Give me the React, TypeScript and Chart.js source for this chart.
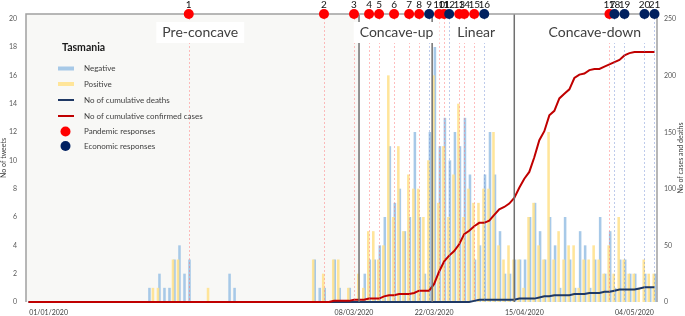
import { useEffect, useRef } from 'react';
import { Chart, registerables } from 'chart.js';

Chart.register(...registerables);

// ---------- data ----------
const startDate = new Date(2020, 0, 1);
const dayCount = 126; // 01/01/2020 .. 05/05/2020
const dayLabels: string[] = Array.from({ length: dayCount }, (_, i) => {
  const d = new Date(startDate.getFullYear(), startDate.getMonth(), startDate.getDate() + i);
  const dd = String(d.getDate()).padStart(2, '0');
  const mm = String(d.getMonth() + 1).padStart(2, '0');
  return `${dd}/${mm}/${d.getFullYear()}`;
});

const negativeTweets = [
  0, 0, 0, 0, 0, 0, 0, 0, 0, 0,
  0, 0, 0, 0, 0, 0, 0, 0, 0, 0,
  0, 0, 0, 0, 1, 0, 2, 1, 1, 3,
  4, 2, 3, 0, 0, 0, 0, 0, 0, 0,
  2, 1, 0, 0, 0, 0, 0, 0, 0, 0,
  0, 0, 0, 0, 0, 0, 0, 3, 1, 1,
  0, 3, 1, 0, 1, 0, 0, 2, 3, 3,
  4, 6, 11, 7, 8, 5, 6, 12, 6, 2,
  12, 18, 11, 13, 10, 12, 11, 13, 9, 3,
  4, 9, 12, 9, 5, 2, 2, 3, 3, 3,
  6, 7, 5, 3, 6, 4, 1, 6, 3, 1,
  5, 4, 1, 3, 6, 2, 5, 1, 3, 3,
  2, 2, 0, 2, 1, 2,
];

const positiveTweets = [
  0, 0, 0, 0, 0, 0, 0, 0, 0, 0,
  0, 0, 0, 0, 0, 0, 0, 0, 0, 0,
  0, 0, 0, 0, 0, 1, 1, 0, 0, 3,
  3, 0, 0, 0, 0, 0, 1, 0, 0, 0,
  0, 0, 0, 0, 0, 0, 0, 0, 0, 0,
  0, 0, 0, 0, 0, 0, 0, 3, 0, 2,
  0, 3, 3, 0, 1, 0, 2, 1, 5, 5,
  3, 4, 16, 6, 11, 5, 9, 8, 8, 6,
  10, 16, 7, 11, 6, 9, 14, 6, 8, 7,
  7, 8, 8, 12, 4, 3, 4, 3, 3, 1,
  6, 7, 4, 3, 12, 3, 5, 3, 4, 4,
  1, 3, 3, 4, 3, 2, 4, 2, 6, 3,
  2, 2, 1, 3, 2, 2,
];

const cumulativeCases = [
  0, 0, 0, 0, 0, 0, 0, 0, 0, 0,
  0, 0, 0, 0, 0, 0, 0, 0, 0, 0,
  0, 0, 0, 0, 0, 0, 0, 0, 0, 0,
  0, 0, 0, 0, 0, 0, 0, 0, 0, 0,
  0, 0, 0, 0, 0, 0, 0, 0, 0, 0,
  0, 0, 0, 0, 0, 0, 0, 0, 0, 0,
  0, 1, 1, 1, 1, 2, 2, 2, 3, 3,
  3, 5, 6, 6, 7, 7, 7, 8, 10, 10,
  10, 16, 27, 36, 41, 45, 51, 60, 63, 67,
  70, 70, 72, 77, 82, 84, 87, 92, 101, 109,
  115, 128, 143, 151, 165, 169, 180, 184, 188, 198,
  201, 202, 205, 206, 206, 208, 210, 212, 214, 218,
  220, 221, 221, 221, 221, 221,
];

const cumulativeDeaths = [
  0, 0, 0, 0, 0, 0, 0, 0, 0, 0,
  0, 0, 0, 0, 0, 0, 0, 0, 0, 0,
  0, 0, 0, 0, 0, 0, 0, 0, 0, 0,
  0, 0, 0, 0, 0, 0, 0, 0, 0, 0,
  0, 0, 0, 0, 0, 0, 0, 0, 0, 0,
  0, 0, 0, 0, 0, 0, 0, 0, 0, 0,
  0, 0, 0, 0, 0, 0, 0, 0, 0, 0,
  0, 0, 0, 0, 0, 0, 0, 0, 0, 0,
  0, 0, 0, 0, 0, 0, 0, 0, 0, 1,
  2, 2, 2, 2, 2, 2, 2, 2, 3, 3,
  3, 3, 4, 5, 5, 6, 6, 6, 6, 7,
  7, 7, 8, 8, 8, 9, 9, 10, 11, 11,
  11, 11, 12, 13, 13, 13,
];

// policy responses (category index of the day, and type)
const responseNumbers = ['1', '2', '3', '4', '5', '6', '7', '8', '9', '10', '11', '12', '13', '14', '15', '16', '17', '18', '19', '20', '21'];
const responseDays = [32, 59, 65, 68, 70, 73, 76, 78, 80, 82, 83, 84, 86, 87, 89, 91, 116, 117, 119, 123, 125];
const responseTypes = ['P', 'P', 'P', 'P', 'P', 'P', 'P', 'P', 'E', 'P', 'P', 'E', 'P', 'P', 'P', 'E', 'P', 'E', 'E', 'E', 'E'];

// phases
const phaseNames = ['Pre-concave', 'Concave-up', 'Linear', 'Concave-down'];
const phaseBoundaryDays = [66, 80.6, 97];
const phaseLabelDays = [34.3, 73.5, 89.4, 113.1];

// x tick labels as shown under the axis
const xTickTexts = ['01/01/2020', '08/03/2020', '22/03/2020', '15/04/2020', '04/05/2020'];
const xTickSlots = [4, 65, 81, 99, 121];

const leftTicks = [0, 2, 4, 6, 8, 10, 12, 14, 16, 18, 20];
const rightTicks = [0, 50, 100, 150, 200, 250];

// ---------- styles ----------
const FONT = 'Lato, "DejaVu Sans", sans-serif';
const BLUE_BAR = 'rgba(157,195,230,0.9)';
const YELLOW_BAR = 'rgba(255,225,140,0.88)';
const RED_LINE = '#C00000';
const NAVY_LINE = '#1F3864';
const RED_DOT = '#FF0000';
const NAVY_DOT = '#002060';

const overlayPlugin = {
  id: 'overlay',
  beforeDatasetsDraw(chart: any) {
    const { ctx, chartArea: a, scales } = chart;
    const x = scales.x;
    const b0 = x.getPixelForValue(phaseBoundaryDays[0]);
    ctx.save();
    ctx.fillStyle = '#f8f8f6';
    ctx.fillRect(a.left, a.top, b0 - a.left, a.bottom - a.top);
    ctx.restore();
  },
  afterDatasetsDraw(chart: any) {
    const { ctx, chartArea: a, scales } = chart;
    const x = scales.x;
    ctx.save();
    // dotted response lines
    ctx.lineWidth = 1;
    ctx.setLineDash([2, 2]);
    responseDays.forEach((d, i) => {
      const px = Math.round(x.getPixelForValue(d)) + 0.5;
      ctx.strokeStyle = responseTypes[i] === 'P' ? 'rgba(255,110,110,0.45)' : 'rgba(110,140,210,0.45)';
      ctx.beginPath();
      ctx.moveTo(px, a.top);
      ctx.lineTo(px, a.bottom);
      ctx.stroke();
    });
    ctx.setLineDash([]);

    // phase boundaries
    ctx.strokeStyle = '#707070';
    ctx.lineWidth = 1.5;
    phaseBoundaryDays.forEach((d) => {
      const px = x.getPixelForValue(d);
      ctx.beginPath();
      ctx.moveTo(px, a.top);
      ctx.lineTo(px, a.bottom);
      ctx.stroke();
    });

    // frame
    ctx.strokeStyle = '#a0a0a0';
    ctx.lineWidth = 1.5;
    ctx.beginPath();
    ctx.moveTo(a.left, a.bottom);
    ctx.lineTo(a.left, a.top);
    ctx.lineTo(a.right, a.top);
    ctx.lineTo(a.right, a.bottom);
    ctx.stroke();

    // phase labels
    ctx.font = `14px ${FONT}`;
    ctx.textBaseline = 'middle';
    ctx.textAlign = 'center';
    phaseNames.forEach((name, i) => {
      const cx = x.getPixelForValue(phaseLabelDays[i]);
      const w = ctx.measureText(name).width;
      ctx.fillStyle = '#ffffff';
      ctx.fillRect(cx - w / 2 - 6, a.top + 8, w + 12, 21);
      ctx.fillStyle = '#404040';
      ctx.fillText(name, cx, a.top + 18.5);
    });

    // response markers
    responseDays.forEach((d, i) => {
      const px = x.getPixelForValue(d);
      ctx.fillStyle = responseTypes[i] === 'P' ? RED_DOT : NAVY_DOT;
      ctx.beginPath();
      ctx.arc(px, a.top, 5, 0, Math.PI * 2);
      ctx.fill();
    });
    ctx.fillStyle = '#111111';
    ctx.font = `10px ${FONT}`;
    responseDays.forEach((d, i) => {
      const px = x.getPixelForValue(d);
      ctx.fillText(responseNumbers[i], px, a.top - 9.5);
    });

    // legend
    const lx = 58;
    ctx.textAlign = 'left';
    ctx.fillStyle = '#1a1a1a';
    ctx.font = `bold 10.5px ${FONT}`;
    ctx.fillText('Tasmania', 62, 48);
    const rows = [68.5, 84, 100, 116, 131.5, 146];
    const ds = chart.data.datasets;
    const names = [ds[0].label, ds[1].label, ds[3].label, ds[2].label, 'Pandemic responses', 'Economic responses'];
    ctx.font = `8px ${FONT}`;
    names.forEach((n, i) => {
      const y = rows[i];
      if (i === 0 || i === 1) {
        ctx.fillStyle = i === 0 ? BLUE_BAR : YELLOW_BAR;
        ctx.fillRect(lx, y - 2, 16, 4);
      } else if (i === 2 || i === 3) {
        ctx.strokeStyle = i === 2 ? NAVY_LINE : RED_LINE;
        ctx.lineWidth = 2;
        ctx.beginPath();
        ctx.moveTo(lx, y);
        ctx.lineTo(lx + 16, y);
        ctx.stroke();
      } else {
        ctx.fillStyle = i === 4 ? RED_DOT : NAVY_DOT;
        ctx.beginPath();
        ctx.arc(lx + 7.5, y, 5, 0, Math.PI * 2);
        ctx.fill();
      }
      ctx.fillStyle = '#404040';
      ctx.fillText(n, 84, y);
    });

    // right axis title (reads bottom to top)
    ctx.save();
    ctx.translate(681, (a.top + a.bottom) / 2);
    ctx.rotate(-Math.PI / 2);
    ctx.textAlign = 'center';
    ctx.font = `7px ${FONT}`;
    ctx.fillStyle = '#404040';
    ctx.fillText('No of cases and deaths', 0, 0);
    ctx.restore();

    ctx.restore();
  },
};

export default function App() {
  const ref = useRef<HTMLCanvasElement | null>(null);
  useEffect(() => {
    document.body.style.margin = '0';
    const canvas = ref.current;
    if (!canvas) return;
    const chart = new Chart(canvas, {
      type: 'bar',
      data: {
        labels: dayLabels,
        datasets: [
          {
            type: 'bar',
            label: 'Negative',
            data: negativeTweets,
            backgroundColor: BLUE_BAR,
            yAxisID: 'y',
            order: 4,
            categoryPercentage: 0.6,
            barPercentage: 1.7,
          },
          {
            type: 'bar',
            label: 'Positive',
            data: positiveTweets,
            backgroundColor: YELLOW_BAR,
            yAxisID: 'y',
            order: 3,
            categoryPercentage: 0.6,
            barPercentage: 1.7,
          },
          {
            type: 'line',
            label: 'No of cumulative confirmed cases',
            data: cumulativeCases,
            borderColor: RED_LINE,
            borderWidth: 2,
            pointRadius: 0,
            tension: 0,
            clip: false,
            yAxisID: 'y1',
            order: 1,
          },
          {
            type: 'line',
            label: 'No of cumulative deaths',
            data: cumulativeDeaths,
            borderColor: NAVY_LINE,
            borderWidth: 2,
            pointRadius: 0,
            tension: 0,
            clip: false,
            yAxisID: 'y1',
            order: 2,
          },
        ] as any,
      },
      options: {
        responsive: true,
        maintainAspectRatio: false,
        animation: false,
        devicePixelRatio: 1,
        layout: { padding: { top: 14, left: 0, right: 0, bottom: 0 } },
        plugins: { legend: { display: false }, tooltip: { enabled: false } },
        scales: {
          x: {
            type: 'category',
            grid: { display: false, drawTicks: false },
            border: { display: false },
            afterFit: (s: any) => { s.height = 14; },
            ticks: {
              autoSkip: false,
              maxRotation: 0,
              minRotation: 0,
              padding: 7,
              font: { family: FONT, size: 7 },
              color: '#404040',
              callback: (_v: any, idx: number) => {
                const k = xTickSlots.indexOf(idx);
                return k >= 0 ? xTickTexts[k] : '';
              },
            },
          },
          y: {
            position: 'left',
            min: 0,
            max: 20.33,
            afterFit: (s: any) => { s.width = 26; },
            afterBuildTicks: (s: any) => { s.ticks = leftTicks.map((v) => ({ value: v })); },
            grid: { display: false, drawTicks: false },
            border: { display: false },
            ticks: { padding: 9, font: { family: FONT, size: 7 }, color: '#595959' },
            title: { display: true, text: 'No of tweets', font: { family: FONT, size: 7 }, color: '#404040', padding: 0 },
          },
          y1: {
            position: 'right',
            min: 0,
            max: 254.6,
            afterFit: (s: any) => { s.width = 28; },
            afterBuildTicks: (s: any) => { s.ticks = rightTicks.map((v) => ({ value: v })); },
            grid: { display: false, drawTicks: false },
            border: { display: false },
            ticks: { padding: 7, font: { family: FONT, size: 7 }, color: '#595959' },
          },
        },
      } as any,
      plugins: [overlayPlugin],
    });
    return () => chart.destroy();
  }, []);
  return (
    <div style={{ position: 'relative', width: 685, height: 316 }}>
      <canvas ref={ref} />
    </div>
  );
}
